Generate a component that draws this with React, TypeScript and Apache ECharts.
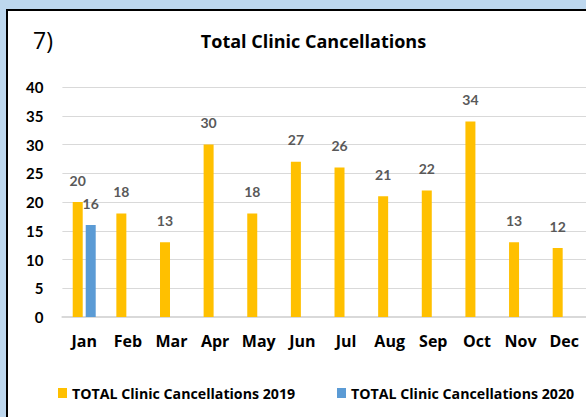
import React, { useEffect, useRef } from "react";
import * as echarts from "echarts";

const months = ["Jan", "Feb", "Mar", "Apr", "May", "Jun", "Jul", "Aug", "Sep", "Oct", "Nov", "Dec"];
const cancellations2019 = [20, 18, 13, 30, 18, 27, 26, 21, 22, 34, 13, 12];
const cancellations2020: (number | null)[] = [16, null, null, null, null, null, null, null, null, null, null, null];
const seriesNames = ["TOTAL Clinic Cancellations 2019", "TOTAL Clinic Cancellations 2020"];
const yTicks = { min: 0, max: 40, interval: 5 };

const FONT = "Lato, 'DejaVu Sans', sans-serif";
const WIDE = "'Open Sans', 'DejaVu Sans', sans-serif";

export default function App() {
  const ref = useRef<HTMLDivElement>(null);
  useEffect(() => {
    if (!ref.current) return;
    const chart = echarts.init(ref.current, undefined, { renderer: "svg" });
    const labelStyle = {
      show: true,
      position: "top" as const,
      distance: 15,
      color: "#595959",
      fontFamily: FONT,
      fontWeight: "bold" as const,
      fontSize: 14,
    };
    const legendText = { fontFamily: WIDE, fontWeight: "bold" as const, fontSize: 14.2, color: "#000" };
    chart.setOption({
      animation: false,
      backgroundColor: "#ffffff",
      textStyle: { fontFamily: FONT },
      graphic: [
        {
          type: "text",
          x: 25,
          y: 29,
          style: { text: "7)", fontFamily: WIDE, fontSize: 23, fill: "#000", verticalAlign: "middle" },
        },
        {
          type: "text",
          x: 305.5,
          y: 30,
          style: {
            text: "Total Clinic Cancellations",
            fontFamily: WIDE,
            fontWeight: "bold",
            fontSize: 18,
            fill: "#000",
            align: "center",
            verticalAlign: "middle",
          },
        },
      ],
      legend: [
        {
          data: [seriesNames[0]],
          left: 50,
          top: 375,
          padding: 0,
          itemWidth: 9,
          itemHeight: 10,
          icon: "rect",
          textStyle: legendText,
        },
        {
          data: [seriesNames[1]],
          left: 329,
          top: 375,
          padding: 0,
          itemWidth: 9,
          itemHeight: 10,
          icon: "rect",
          textStyle: legendText,
        },
      ],
      grid: { left: 54.4, right: -8, top: 76, bottom: 100, containLabel: false },
      xAxis: {
        type: "category",
        data: months,
        axisLine: { lineStyle: { color: "#D9D9D9", width: 2 } },
        axisTick: { show: false },
        axisLabel: { interval: 0, color: "#000", fontFamily: WIDE, fontWeight: "bold", fontSize: 16, margin: 16 },
      },
      yAxis: {
        type: "value",
        min: yTicks.min,
        max: yTicks.max,
        interval: yTicks.interval,
        axisLine: { show: false },
        axisTick: { show: false },
        splitLine: { lineStyle: { color: "#D9D9D9", width: 1 } },
        axisLabel: { color: "#000", fontFamily: FONT, fontWeight: "bold", fontSize: 15, margin: 19 },
      },
      series: [
        {
          name: seriesNames[0],
          type: "bar",
          data: cancellations2019,
          barWidth: 10,
          barGap: "30%",
          itemStyle: { color: "#FFC000" },
          label: labelStyle,
        },
        {
          name: seriesNames[1],
          type: "bar",
          data: cancellations2020,
          barWidth: 10,
          barGap: "30%",
          itemStyle: { color: "#5B9BD5" },
          label: labelStyle,
        },
      ],
    });
    return () => chart.dispose();
  }, []);

  return (
    <div style={{ position: "fixed", left: 0, top: 0, width: 586, height: 417, background: "#BDD7EE", overflow: "hidden" }}>
      <div
        style={{
          position: "absolute",
          left: 6,
          top: 9,
          width: 580,
          height: 408,
          boxSizing: "border-box",
          borderTop: "2px solid #000",
          borderLeft: "2px solid #000",
          background: "#fff",
        }}
      >
        <div ref={ref} style={{ width: 578, height: 406 }} />
      </div>
    </div>
  );
}
